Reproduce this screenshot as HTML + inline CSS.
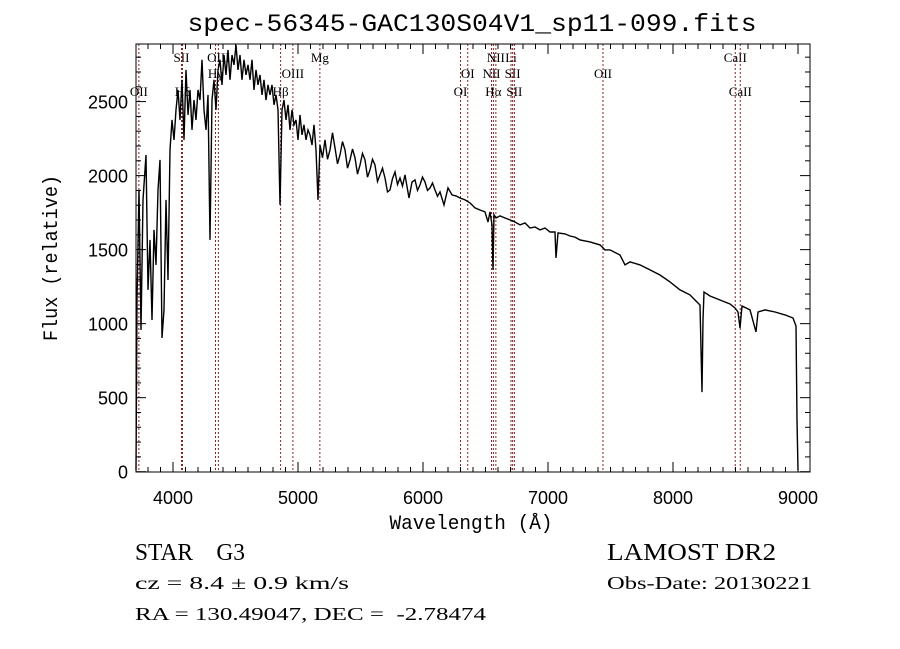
<!DOCTYPE html>
<html><head><meta charset="utf-8"><style>
html,body{margin:0;padding:0;background:#fff;}
svg{display:block;}
text{white-space:pre;}
</style></head><body>
<svg id="chart" width="900" height="649" viewBox="0 0 900 649" xmlns="http://www.w3.org/2000/svg" xml:space="preserve">
<rect width="900" height="649" fill="#fff"/>
<text x="472" y="31" text-anchor="middle" font-family="Liberation Mono, monospace" font-size="25" textLength="569" lengthAdjust="spacingAndGlyphs">spec-56345-GAC130S04V1_sp11-099.fits</text>
<g id="lines"></g>
<g id="spec"></g>
<g id="axes"></g>
<text x="471" y="529" text-anchor="middle" font-family="Liberation Mono, monospace" font-size="20" textLength="163" lengthAdjust="spacingAndGlyphs">Wavelength (Å)</text>
<text transform="translate(57,258) rotate(-90)" text-anchor="middle" font-family="Liberation Mono, monospace" font-size="20" textLength="166" lengthAdjust="spacingAndGlyphs">Flux (relative)</text>
<text x="135" y="560" font-family="Liberation Serif, serif" font-size="24" textLength="110" lengthAdjust="spacingAndGlyphs">STAR    G3</text>
<text x="607" y="560" font-family="Liberation Serif, serif" font-size="24" textLength="169" lengthAdjust="spacingAndGlyphs">LAMOST DR2</text>
<text x="135" y="589" font-family="Liberation Serif, serif" font-size="18" textLength="214" lengthAdjust="spacingAndGlyphs">cz = 8.4 ± 0.9 km/s</text>
<text x="607" y="589" font-family="Liberation Serif, serif" font-size="18" textLength="205" lengthAdjust="spacingAndGlyphs">Obs-Date: 20130221</text>
<text x="135" y="620" font-family="Liberation Serif, serif" font-size="18" textLength="351" lengthAdjust="spacingAndGlyphs">RA = 130.49047, DEC =  -2.78474</text>
</svg>
<script>
const wavelengths=[3704,3712,3728,3744,3760,3784,3800,3816,3832,3848,3864,3880,3896,3912,3928,3944,3960,3976,3992,4008,4024,4040,4056,4072,4088,4104,4120,4136,4152,4168,4184,4200,4216,4232,4248,4264,4280,4296,4312,4328,4344,4360,4376,4392,4408,4424,4440,4456,4472,4488,4504,4520,4536,4552,4568,4584,4600,4616,4632,4648,4664,4680,4696,4712,4728,4744,4760,4776,4792,4808,4824,4840,4856,4872,4888,4904,4920,4936,4952,4968,4984,5000,5016,5032,5048,5064,5080,5096,5112,5128,5144,5160,5176,5196,5216,5236,5256,5276,5296,5316,5336,5356,5376,5396,5416,5436,5456,5476,5496,5516,5536,5556,5576,5596,5616,5636,5656,5676,5696,5716,5736,5756,5776,5796,5816,5836,5856,5888,5912,5936,5956,5976,5996,6016,6036,6056,6076,6096,6116,6136,6168,6200,6232,6264,6296,6336,6376,6416,6456,6496,6520,6536,6552,6560,6568,6584,6616,6656,6696,6736,6776,6816,6856,6896,6936,6976,7016,7056,7064,7080,7136,7176,7216,7256,7336,7416,7456,7496,7576,7616,7656,7736,7816,7896,7976,8056,8136,8176,8216,8232,8240,8248,8296,8376,8456,8496,8520,8536,8552,8616,8664,8680,8736,8816,8896,8960,8984,8992,9000];
const fluxes=[11,1160,1903,957,1836,2139,1228,1566,1025,1633,1397,1903,2106,903,1093,1836,1295,2174,2376,2241,2444,2579,2376,2647,2241,2714,2410,2579,2309,2511,2376,2579,2511,2782,2444,2309,2545,1566,2511,2647,2444,2714,2782,2613,2815,2680,2849,2647,2815,2748,2883,2714,2815,2647,2782,2680,2748,2647,2782,2579,2714,2613,2680,2545,2647,2511,2613,2545,2613,2478,2545,2444,1802,2444,2511,2376,2478,2309,2444,2343,2376,2241,2410,2275,2343,2241,2309,2275,2207,2343,2174,1836,2207,2120,2241,2110,2174,2290,2187,2080,2139,2230,2174,2050,2106,2180,2120,2010,2072,2150,2106,1990,2039,2110,2072,1960,2005,2050,1984,1890,1903,1980,2025,1940,1984,1930,2005,1849,1957,1971,1900,1937,1990,1957,1900,1917,1950,1903,1860,1890,1802,1917,1870,1863,1849,1836,1816,1782,1768,1755,1687,1755,1667,1363,1735,1714,1728,1714,1701,1687,1667,1680,1646,1653,1633,1646,1619,1619,1444,1613,1606,1592,1585,1566,1552,1532,1498,1498,1464,1397,1417,1397,1363,1329,1282,1228,1194,1160,1126,538,1025,1214,1187,1160,1133,1106,1079,971,1119,1093,944,1079,1093,1079,1059,1038,984,349,11];
const lineWaves=[3727,4068,4076,4340,4363,4861,4959,5175,6300,6358,6548,6563,6583,6704,6717,6731,7440,8498,8538];
const lineLabels=["OII","SII","Hδ","Hγ","OIII","Hβ","OIII","Mg","OI","OI","NII","Hα","NII","Li","SII","SII","OII","CaII","CaII"];
const labelRows=[3,1,3,2,1,3,2,1,3,2,2,3,1,1,2,3,2,1,3];
const xTickLabels=["4000","5000","6000","7000","8000","9000"];
const yTickLabels=["0","500","1000","1500","2000","2500"];

const L=136,R=810,T=44,B=472;
const X0=3704,X1=9096,Y0=-2,Y1=2889;
const sx=w=>L+(w-X0)/(X1-X0)*(R-L);
const sy=f=>B-(f-Y0)/(Y1-Y0)*(B-T);
const NS="http://www.w3.org/2000/svg";
function mk(tag,attrs,parent){const e=document.createElementNS(NS,tag);for(const k in attrs)e.setAttribute(k,attrs[k]);parent.appendChild(e);return e;}

const gl=document.getElementById('lines');
lineWaves.forEach((w,i)=>{
  const l=mk('line',{x1:sx(w),x2:sx(w),y1:T,y2:B,stroke:'#8b2323','stroke-width':1,'stroke-dasharray':'2,2'},gl);
  
  
  const t=mk('text',{x:sx(w),y:[0,62,78,96][labelRows[i]],'text-anchor':'middle','font-family':'Liberation Serif, serif','font-size':13},gl);
  t.textContent=lineLabels[i];
  
  
});

const gs=document.getElementById('spec');
let d='';
wavelengths.forEach((w,i)=>{d+=(i?'L':'M')+sx(w).toFixed(1)+','+sy(fluxes[i]).toFixed(1);});
const p=mk('path',{d:d,fill:'none',stroke:'#000','stroke-width':1.4},gs);



const ga=document.getElementById('axes');
const fr=mk('rect',{x:L,y:T,width:R-L,height:B-T,fill:'none',stroke:'#000','stroke-width':1},ga);


for(let w=3800;w<=9000;w+=100){
  const major=w%1000===0, len=major?10:5, x=sx(w);
  const t1=mk('line',{x1:x,x2:x,y1:B,y2:B-len,stroke:'#000'},ga);
  
  
  const t2=mk('line',{x1:x,x2:x,y1:T,y2:T+len,stroke:'#000'},ga);
  
  
}
xTickLabels.forEach(s=>{
  const t=mk('text',{x:sx(+s),y:504,'text-anchor':'middle','font-family':'Liberation Sans, sans-serif','font-size':18},ga);
  t.textContent=s;
  
  
});
for(let f=0;f<=2800;f+=100){
  const major=f%500===0,len=major?10:5,y=sy(f);
  const t1=mk('line',{x1:L,x2:L+len,y1:y,y2:y,stroke:'#000'},ga);
  
  
  const t2=mk('line',{x1:R,x2:R-len,y1:y,y2:y,stroke:'#000'},ga);
  
  
}
yTickLabels.forEach(s=>{
  const t=mk('text',{x:128,y:sy(+s)+7,'text-anchor':'end','font-family':'Liberation Sans, sans-serif','font-size':18},ga);
  t.textContent=s;
  
  
});
</script>
</body></html>
